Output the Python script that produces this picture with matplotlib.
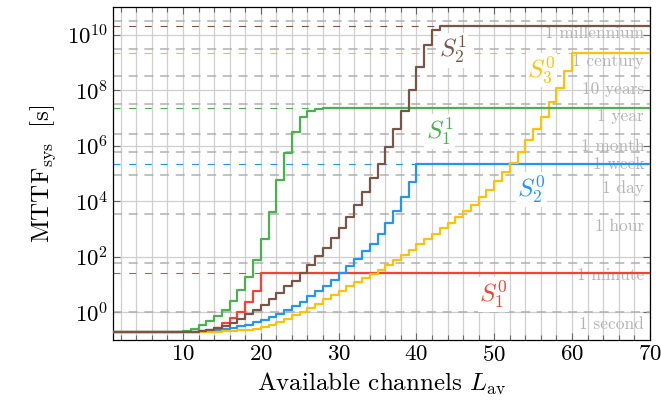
import numpy as np
import matplotlib
matplotlib.use("Agg")
import matplotlib.pyplot as plt
from matplotlib.ticker import FixedLocator, MultipleLocator, LogFormatterMathtext, NullLocator

plt.rcParams["font.family"] = "serif"
plt.rcParams["font.serif"] = ["cmr10"]
plt.rcParams["mathtext.fontset"] = "cm"
plt.rcParams["axes.unicode_minus"] = False
plt.rcParams["axes.formatter.use_mathtext"] = True
plt.rcParams["lines.scale_dashes"] = False

# ---------------------------------------------------------
# data: step breakpoints (available channels, log10 MTTF [s])
# ---------------------------------------------------------
L_red = [1] + list(range(12, 21)) + [70]
log_red = [-0.72, -0.67, -0.63, -0.56, -0.40, -0.21, 0.02, 0.36, 0.75, 1.40, 1.40]

L_blue = [1] + list(range(12, 41)) + [70]
log_blue = [-0.72, -0.69, -0.67, -0.64, -0.61, -0.56, -0.50, -0.45, -0.36, -0.27,
            -0.17, -0.05, 0.08, 0.22, 0.38, 0.58, 0.77, 0.95, 1.16, 1.40,
            1.65, 1.91, 2.19, 2.47, 2.83, 3.23, 3.64, 4.14, 4.70, 5.35, 5.35]

L_yellow = [1] + list(range(14, 61)) + [70]
log_yellow = [-0.72, -0.70, -0.69, -0.68, -0.66, -0.63, -0.59, -0.54, -0.46, -0.36,
              -0.23, -0.11, 0.01, 0.14, 0.31, 0.47, 0.62, 0.77, 0.93, 1.08,
              1.22, 1.37, 1.53, 1.70, 1.88, 2.05, 2.25, 2.45, 2.62, 2.82,
              3.02, 3.22, 3.44, 3.66, 3.88, 4.14, 4.42, 4.72, 5.07, 5.38,
              5.77, 6.19, 6.59, 7.05, 7.56, 8.09, 8.68, 9.34, 9.34]

L_green = [1] + list(range(10, 29)) + [70]
log_green = [-0.72, -0.67, -0.60, -0.48, -0.32, -0.14, 0.08, 0.42, 0.81, 1.28,
             1.89, 2.63, 3.61, 4.75, 5.73, 6.51, 7.02, 7.26, 7.33, 7.37, 7.37]

L_brown = [1] + list(range(11, 44)) + [70]
log_brown = [-0.72, -0.70, -0.67, -0.64, -0.58, -0.50, -0.38, -0.24, -0.08, 0.08,
             0.26, 0.47, 0.69, 0.93, 1.14, 1.42, 1.71, 2.01, 2.33, 2.66,
             3.05, 3.44, 3.85, 4.32, 4.82, 5.35, 5.97, 6.59, 7.26, 8.00,
             8.84, 9.63, 10.18, 10.32, 10.32]

curves = [
    (L_red, log_red, "#F44336", r"$S_1^0$", 49.9, 0.62),
    (L_blue, log_blue, "#2196F3", r"$S_2^0$", 54.8, 4.42),
    (L_yellow, log_yellow, "#FFC107", r"$S_3^0$", 56.1, 8.72),
    (L_green, log_green, "#4CAF50", r"$S_1^1$", 43.0, 6.51),
    (L_brown, log_brown, "#795548", r"$S_2^1$", 44.7, 9.44),
]

time_names = ["1 second", "1 minute", "1 hour", "1 day", "1 week", "1 month",
              "1 year", "10 years", "1 century", "1 millennium"]
time_secs = [1, 60, 3600, 86400, 604800, 2.63e6, 3.156e7, 3.156e8, 3.156e9, 3.156e10]

# ---------------------------------------------------------
# plot
# ---------------------------------------------------------
fig = plt.figure(figsize=(6.61, 4.13), dpi=100)
ax = fig.add_axes([0.171, 0.177, 0.812, 0.806])

for t, name in zip(time_secs, time_names):
    ax.axhline(t, color="#b0b0b0", lw=1.1, dashes=(6.5, 4.8), zorder=1)
    ax.annotate(name, xy=(1, t), xycoords=("axes fraction", "data"),
                xytext=(-4, -9), textcoords="offset points",
                ha="right", va="center", fontsize=12.5, color="#b4b4b4", zorder=1.2)

for L, lg, c, lab, lx, ly in curves:
    vals = 10 ** np.array(lg)
    ax.axhline(vals[-1], color=c, lw=0.8, dashes=(5, 6.3), zorder=1.5)
for L, lg, c, lab, lx, ly in curves:
    vals = 10 ** np.array(lg)
    ax.plot(L, vals, drawstyle="steps-post", color=c, lw=1.6, zorder=3)
    ax.text(lx, 10 ** ly, lab, color=c, fontsize=18, ha="center", va="center",
            zorder=2.5, bbox=dict(fc="white", ec="none", pad=1))

ax.set_yscale("log")
ax.set_xlim(1, 70)
ax.set_ylim(1e-1, 1e11)

ax.xaxis.set_major_locator(FixedLocator([10, 20, 30, 40, 50, 60, 70]))
ax.xaxis.set_minor_locator(MultipleLocator(2))
ax.yaxis.set_major_locator(FixedLocator([1e0, 1e2, 1e4, 1e6, 1e8, 1e10]))
ax.yaxis.set_major_formatter(LogFormatterMathtext())
ax.yaxis.set_minor_locator(NullLocator())

ax.grid(True, which="major", color="#cfcfcf", lw=0.9, zorder=0)
ax.grid(True, which="minor", axis="x", color="#cfcfcf", lw=0.9, zorder=0)
ax.set_axisbelow(True)

ax.tick_params(which="both", direction="in", top=True, right=True,
               color="#666666", labelsize=16.5)
ax.tick_params(which="major", length=5, width=0.8)
ax.tick_params(which="minor", length=3.5, width=0.8)
for s in ax.spines.values():
    s.set_linewidth(0.9)

ax.set_xlabel(r"Available channels $L_{\mathrm{av}}$", fontsize=18, labelpad=4)
ax.set_ylabel(r"$\mathrm{MTTF}_{\mathrm{sys}}\ \ [\mathrm{s}]$", fontsize=18, labelpad=6)

fig.savefig("out.png", dpi=100)
